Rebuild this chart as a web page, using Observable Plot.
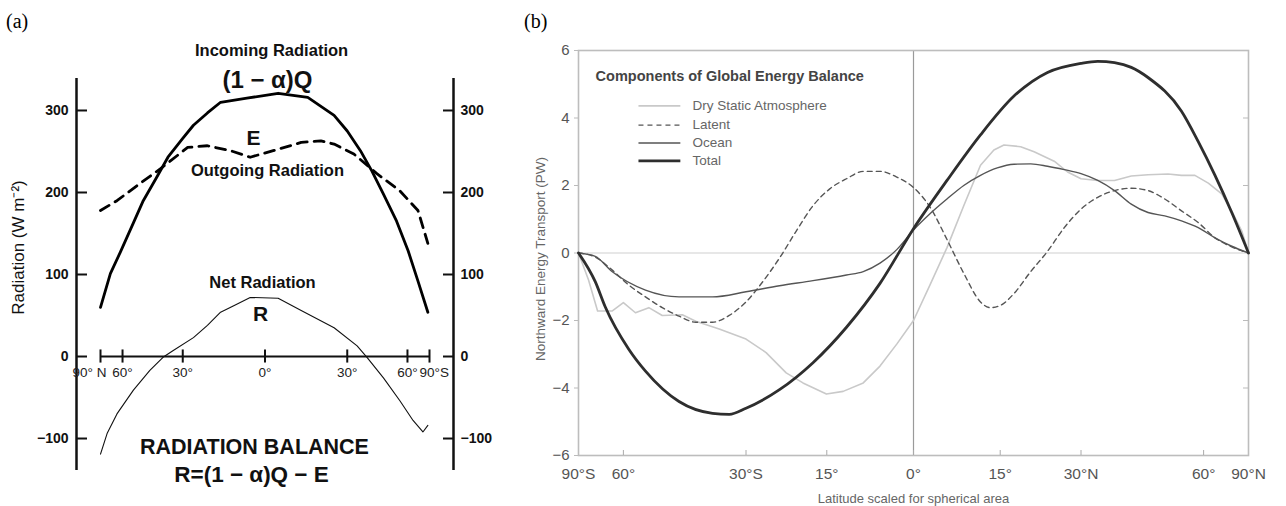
<!DOCTYPE html>
<html>
<head>
<meta charset="utf-8">
<script src="https://cdn.jsdelivr.net/npm/d3@7"></script>
<script src="https://cdn.jsdelivr.net/npm/@observablehq/plot@0.6"></script>
<style>
  html, body { margin: 0; padding: 0; background: #fff; }
  #wrap { position: relative; width: 1286px; height: 506px; overflow: hidden; background: #fff; }
  #pa { position: absolute; left: 0; top: 0; }
  #pb { position: absolute; left: 500px; top: 0; }
  .tag { position: absolute; font-family: "Liberation Serif", "Times New Roman", serif; font-size: 20px; color: #000; }
</style>
</head>
<body>
<div id="wrap">
  <div id="pa"></div>
  <div id="pb"></div>
  <div class="tag" style="left:6px;top:10px">(a)</div>
  <div class="tag" style="left:524px;top:10px">(b)</div>
</div>
<script>
// ---------------- Panel (a): Radiation balance ----------------
// x = sine of latitude (south positive, 90°N at -1), y = W m^-2
const aIncoming = [
  [-1, 60], [-0.94, 101], [-0.88, 127], [-0.8, 163], [-0.74, 190], [-0.66, 218],
  [-0.59, 243], [-0.5, 266], [-0.435, 282], [-0.35, 297], [-0.27, 310], [-0.11, 315],
  [0.08, 321], [0.26, 316], [0.42, 294], [0.5, 275], [0.58, 251], [0.65, 226],
  [0.72, 198], [0.8, 165], [0.87, 129], [0.93, 92], [0.99, 54]
];
const aOutgoing = [
  [-1, 178], [-0.9, 190], [-0.76, 211], [-0.635, 229], [-0.47, 255], [-0.35, 257],
  [-0.21, 251], [-0.09, 243], [0.05, 251], [0.22, 261], [0.34, 263], [0.42, 259],
  [0.54, 247], [0.68, 223], [0.82, 202], [0.93, 178], [0.99, 138]
];
const aNet = [
  [-1, -119], [-0.96, -94], [-0.9, -70], [-0.8, -41], [-0.7, -17], [-0.62, -1],
  [-0.56, 7], [-0.435, 23], [-0.35, 38], [-0.27, 54], [-0.19, 62], [-0.09, 72],
  [0.08, 71], [0.22, 56], [0.42, 35], [0.56, 13], [0.62, -1], [0.72, -26],
  [0.82, -54], [0.9, -78], [0.96, -92], [0.99, -84]
];
const aTickLat = [90, 60, 30, 0, -30, -60, -90];          // north positive
const aTickLabels = ["90° N", "60°", "30°", "0°", "30°", "60°", "90°S"];
const aYTicks = [-100, 0, 100, 200, 300];
const aNotes = [
  {text: "Incoming Radiation", x: 0.04, y: 373, size: 16.5},
  {text: "(1 − α)Q", x: 0.015, y: 337, size: 24},
  {text: "E", x: -0.07, y: 266, size: 21},
  {text: "Outgoing Radiation", x: 0.015, y: 226, size: 16.5},
  {text: "Net Radiation", x: -0.015, y: 90, size: 16.5},
  {text: "R", x: -0.027, y: 52, size: 21},
  {text: "RADIATION BALANCE", x: -0.064, y: -111, size: 21.5},
  {text: "R=(1 − α)Q − E", x: -0.082, y: -144, size: 22.5}
];
const aYLabel = "Radiation (W m⁻²)";

// ---------------- Panel (b): Components of global energy balance ----------------
// x = sine of latitude (north positive), y = PW
const bTotal = [
  [-1, 0], [-0.95, -0.85], [-0.92, -1.6], [-0.85, -2.85], [-0.8, -3.5], [-0.7, -4.4],
  [-0.6, -4.75], [-0.55, -4.78], [-0.5, -4.6], [-0.4, -4.05], [-0.3, -3.25], [-0.2, -2.2],
  [-0.1, -0.9], [0, 0.72], [0.1, 2.15], [0.2, 3.5], [0.3, 4.65], [0.4, 5.35],
  [0.5, 5.62], [0.55, 5.68], [0.6, 5.64], [0.65, 5.5], [0.7, 5.2], [0.8, 4.2], [0.85, 3.3],
  [0.9, 2.3], [0.95, 1.2], [1, 0]
];
const bOcean = [
  [-1, 0], [-0.95, -0.1], [-0.9, -0.55], [-0.8, -1.1], [-0.7, -1.3], [-0.6, -1.3],
  [-0.5, -1.15], [-0.4, -0.97], [-0.3, -0.82], [-0.2, -0.65], [-0.15, -0.55], [-0.1, -0.3],
  [-0.05, 0.1], [0, 0.68], [0.05, 1.17], [0.1, 1.6], [0.15, 2.0], [0.2, 2.3], [0.25, 2.52],
  [0.3, 2.63], [0.35, 2.64], [0.4, 2.57], [0.45, 2.47], [0.5, 2.35], [0.55, 2.15], [0.6, 1.85],
  [0.65, 1.45], [0.7, 1.2], [0.75, 1.1], [0.8, 0.95], [0.85, 0.75], [0.9, 0.45], [0.95, 0.2], [1, 0]
];
const bLatent = [
  [-1, 0], [-0.95, -0.12], [-0.9, -0.5], [-0.85, -0.95], [-0.8, -1.3], [-0.75, -1.62],
  [-0.7, -1.87], [-0.65, -2.05], [-0.6, -2.05], [-0.55, -1.85], [-0.5, -1.45], [-0.45, -0.85],
  [-0.4, -0.15], [-0.35, 0.65], [-0.3, 1.4], [-0.25, 1.9], [-0.2, 2.2], [-0.15, 2.42],
  [-0.1, 2.42], [-0.05, 2.25], [0, 1.94], [0.05, 1.35], [0.1, 0.4], [0.15, -0.6], [0.2, -1.45],
  [0.23, -1.62], [0.26, -1.55], [0.3, -1.2], [0.35, -0.55], [0.4, 0.05], [0.45, 0.75],
  [0.5, 1.3], [0.55, 1.65], [0.6, 1.85], [0.65, 1.92], [0.7, 1.85], [0.75, 1.6], [0.8, 1.25],
  [0.85, 0.9], [0.9, 0.45], [0.95, 0.18], [1, 0]
];
const bDry = [
  [-1, 0], [-0.97, -0.8], [-0.943, -1.72], [-0.9, -1.72], [-0.866, -1.47], [-0.83, -1.77],
  [-0.79, -1.62], [-0.75, -1.85], [-0.69, -1.83], [-0.65, -2.02], [-0.58, -2.25], [-0.5, -2.55],
  [-0.44, -2.95], [-0.38, -3.55], [-0.33, -3.85], [-0.26, -4.18], [-0.21, -4.1], [-0.15, -3.85],
  [-0.1, -3.35], [-0.05, -2.7], [0, -2.0], [0.05, -0.93], [0.1, 0.16], [0.15, 1.4], [0.2, 2.6],
  [0.24, 3.05], [0.27, 3.2], [0.32, 3.15], [0.36, 3.0], [0.42, 2.72], [0.46, 2.4], [0.5, 2.2],
  [0.55, 2.15], [0.6, 2.15], [0.65, 2.28], [0.7, 2.32], [0.76, 2.34], [0.8, 2.3], [0.84, 2.3],
  [0.88, 2.07], [0.92, 1.75], [0.95, 1.24], [0.98, 0.65], [1, 0]
];
const bTickLat = [-90, -60, -30, -15, 0, 15, 30, 60, 90];
const bTickLabels = ["90°S", "60°", "30°S", "15°", "0°", "15°", "30°N", "60°", "90°N"];
const bYTicks = [-6, -4, -2, 0, 2, 4, 6];
const bSeriesNames = ["Dry Static Atmosphere", "Latent", "Ocean", "Total"];
const bLegendTitle = "Components of Global Energy Balance";
const bYLabel = "Northward Energy Transport (PW)";
const bXLabel = "Latitude scaled for spherical area";

const rad = Math.PI / 180;
const sans = "'Liberation Sans', Arial, Helvetica, sans-serif";

// ---------- build panel (a) ----------
const aTickS = aTickLat.map(l => -Math.sin(l * rad));
const aTicks = aTickS.map((s, i) => ({s, label: aTickLabels[i]}));
const aPad = 24 / 164.5; // axis lines sit just outside the ±90° span
const plotA = Plot.plot({
  width: 500, height: 506,
  marginLeft: 76, marginRight: 47, marginTop: 78, marginBottom: 36,
  x: {domain: [-1 - aPad, 1 + aPad], axis: null},
  y: {domain: [-139, 339], axis: null},
  style: {fontFamily: sans, color: "#111", background: "transparent"},
  marks: [
    Plot.ruleX([-1 - aPad], {strokeWidth: 2.5, stroke: "#111"}),
    Plot.ruleX([1 + aPad], {strokeWidth: 2.5, stroke: "#111"}),
    Plot.axisY(aYTicks, {anchor: "left", tickSize: 11, dx: 11, tickPadding: 8, strokeWidth: 2,
      fontSize: 14, fontWeight: "bold", label: null}),
    Plot.axisY(aYTicks, {anchor: "right", tickSize: 11, dx: -11, tickPadding: 7, strokeWidth: 2,
      fontSize: 14, fontWeight: "bold", label: null}),
    Plot.ruleY([0], {x1: -1, x2: 1, strokeWidth: 2, stroke: "#111"}),
    Plot.ruleX(aTicks, {x: "s", y1: -8, y2: 8, strokeWidth: 2, stroke: "#111"}),
    Plot.text(aTicks.slice(1, -1), {x: "s", y: 0, text: "label", dy: 16, fontSize: 13.5, fill: "#222"}),
    Plot.text(aTicks.slice(0, 1), {x: "s", y: 0, text: "label", dy: 16, dx: 6, textAnchor: "end", fontSize: 13.5, fill: "#222"}),
    Plot.text(aTicks.slice(-1), {x: "s", y: 0, text: "label", dy: 16, dx: -10, textAnchor: "start", fontSize: 13.5, fill: "#222"}),
    Plot.line(aIncoming, {x: d => d[0], y: d => d[1], stroke: "#000", strokeWidth: 2.8}),
    Plot.line(aOutgoing, {x: d => d[0], y: d => d[1], stroke: "#000", strokeWidth: 2.8, strokeDasharray: "10,7"}),
    Plot.line(aNet, {x: d => d[0], y: d => d[1], stroke: "#111", strokeWidth: 1.1}),
    ...aNotes.map(n => Plot.text([n], {x: "x", y: "y", text: "text", fontSize: n.size, fontWeight: "bold", fill: "#111"})),
    Plot.text([aYLabel], {frameAnchor: "left", textAnchor: "middle", lineAnchor: "middle", rotate: -90,
      dx: -58, dy: -27, fontSize: 17, fill: "#111"})
  ]
});
document.getElementById("pa").appendChild(plotA);

// ---------- build panel (b) ----------
const bTickU = bTickLat.map(l => Math.sin(l * rad));
const bLabelOf = new Map(bTickU.map((u, i) => [u, bTickLabels[i]]));
const bStyles = [
  {stroke: "#c9c9c9", strokeWidth: 1.6, dash: null},
  {stroke: "#555", strokeWidth: 1.4, dash: "5,4"},
  {stroke: "#555", strokeWidth: 1.4, dash: null},
  {stroke: "#2e2e2e", strokeWidth: 2.8, dash: null}
];
const bSeries = [bDry, bLatent, bOcean, bTotal];
const legendRows = [4.36, 3.79, 3.26, 2.73];
const legend = bSeriesNames.map((name, i) => ({name, y: legendRows[i], ...bStyles[i]}));

const plotB = Plot.plot({
  width: 786, height: 506,
  marginLeft: 78, marginRight: 38, marginTop: 50, marginBottom: 51,
  x: {domain: [-1, 1], axis: null},
  y: {domain: [-6, 6], axis: null},
  style: {fontFamily: sans, color: "#555", background: "transparent"},
  marks: [
    Plot.ruleY([0], {stroke: "#d0d0d0", strokeWidth: 1.2}),
    Plot.ruleX([0], {stroke: "#9a9a9a", strokeWidth: 1.2}),
    Plot.frame({stroke: "#bdbdbd", strokeWidth: 1.6}),
    Plot.axisY(bYTicks, {anchor: "left", tickSize: 4, tickPadding: 5, stroke: "#bbb", fill: "#555", fontSize: 15, label: null}),
    Plot.axisY([-4, -2, 2, 4], {anchor: "right", tickSize: 6, dx: -6, stroke: "#bbb", fill: "none", label: null}),
    Plot.axisX(bTickU.slice(1, -1), {anchor: "bottom", tickSize: 5, dy: -5, stroke: "#aaa", fill: "none", label: null}),
    Plot.axisX(bTickU, {anchor: "bottom", tickSize: 0, tickPadding: 12, fill: "#555", fontSize: 15.5,
      tickFormat: d => bLabelOf.get(d), label: null}),
    ...bSeries.map((s, i) => Plot.line(s, {x: d => d[0], y: d => d[1], stroke: bStyles[i].stroke,
      strokeWidth: bStyles[i].strokeWidth, strokeDasharray: bStyles[i].dash, curve: i === 0 ? "linear" : "monotone-x"})),
    Plot.text([bLegendTitle], {x: -0.949, y: 5.24, textAnchor: "start", fontSize: 14.5, fontWeight: "bold", fill: "#444"}),
    ...legend.map(l => Plot.link([l], {x1: -0.821, x2: -0.696, y1: "y", y2: "y", stroke: l.stroke,
      strokeWidth: l.strokeWidth, strokeDasharray: l.dash})),
    Plot.text(legend, {x: -0.66, y: "y", text: "name", textAnchor: "start", fontSize: 13.5, fill: "#666"}),
    Plot.text([bYLabel], {frameAnchor: "left", textAnchor: "middle", lineAnchor: "middle", rotate: -90,
      dx: -38, dy: 6, fontSize: 13.5, fill: "#666"}),
    Plot.text([bXLabel], {frameAnchor: "bottom", lineAnchor: "middle", dy: 43, fontSize: 13, fill: "#666"})
  ]
});
document.getElementById("pb").appendChild(plotB);
</script>
</body>
</html>
